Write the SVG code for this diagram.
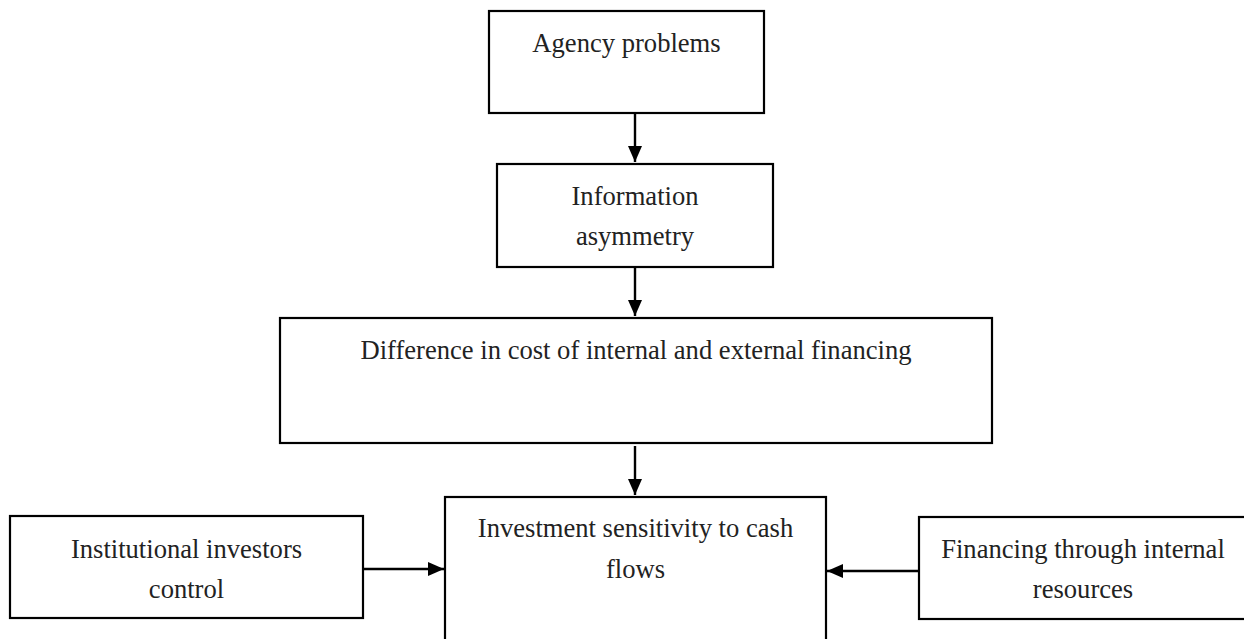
<svg xmlns="http://www.w3.org/2000/svg" width="1244" height="639" viewBox="0 0 1244 639">
<defs>
<style>
.box{fill:#fff;stroke:#000;stroke-width:2.2}
.t{font-family:"Liberation Serif","Times New Roman",serif;font-size:26.6px;fill:#222;text-anchor:middle}
.c{stroke:#000;stroke-width:2.4;fill:none}
</style>
<marker id="ah" viewBox="0 0 16 14" refX="16" refY="7" markerWidth="16" markerHeight="14" markerUnits="userSpaceOnUse" orient="auto">
<path d="M0,0 L16,7 L0,14 Z" fill="#000"/>
</marker>
</defs>
<rect width="1244" height="639" fill="#fff"/>
<g id="n-agency">
<rect class="box" x="489" y="11" width="275" height="102"/>
<text class="t" x="626.5" y="52">Agency problems</text>
</g>
<g id="n-info">
<rect class="box" x="497" y="164" width="276" height="103"/>
<text class="t" x="635" y="205">Information</text>
<text class="t" x="635" y="245">asymmetry</text>
</g>
<g id="n-diff">
<rect class="box" x="280" y="318" width="712" height="125"/>
<text class="t" x="636" y="359">Difference in cost of internal and external financing</text>
</g>
<g id="n-invest">
<rect class="box" x="445" y="497" width="381" height="160"/>
<text class="t" x="635.5" y="537">Investment sensitivity to cash</text>
<text class="t" x="635.5" y="578">flows</text>
</g>
<g id="n-inst">
<rect class="box" x="10" y="516" width="353" height="102"/>
<text class="t" x="186.5" y="558">Institutional investors</text>
<text class="t" x="186.5" y="598">control</text>
</g>
<g id="n-fin">
<rect class="box" x="919" y="517" width="340" height="102"/>
<text class="t" x="1083" y="558">Financing through internal</text>
<text class="t" x="1083" y="598">resources</text>
</g>
<g id="connectors">
<line class="c" x1="635" y1="113" x2="635" y2="162" marker-end="url(#ah)"/>
<line class="c" x1="635" y1="267" x2="635" y2="316" marker-end="url(#ah)"/>
<line class="c" x1="635" y1="446" x2="635" y2="495" marker-end="url(#ah)"/>
<line class="c" x1="363" y1="569" x2="444" y2="569" marker-end="url(#ah)"/>
<line class="c" x1="918" y1="571" x2="827" y2="571" marker-end="url(#ah)"/>
</g>
</svg>
